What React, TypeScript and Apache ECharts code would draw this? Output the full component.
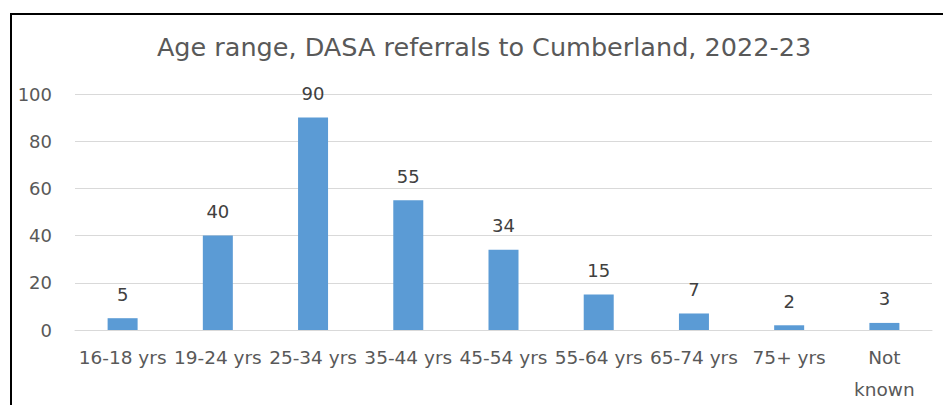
import React, { useEffect, useRef } from "react";
import * as echarts from "echarts";

const TITLE = "Age range, DASA referrals to Cumberland, 2022-23";
const categories = ["16-18 yrs", "19-24 yrs", "25-34 yrs", "35-44 yrs", "45-54 yrs", "55-64 yrs", "65-74 yrs", "75+ yrs", "Not\nknown"];
const referrals = [5, 40, 90, 55, 34, 15, 7, 2, 3];
const yTicks = { min: 0, max: 100, interval: 20 };

const FONT = "DejaVu Sans";

export default function App() {
  const ref = useRef<HTMLDivElement>(null);
  useEffect(() => {
    if (!ref.current) return;
    const chart = echarts.init(ref.current, undefined, { renderer: "svg" });
    chart.setOption({
      animation: false,
      backgroundColor: "#ffffff",
      title: {
        text: TITLE,
        left: 479,
        top: 29,
        textAlign: "center",
        textStyle: { fontFamily: FONT, fontSize: 25.5, fontWeight: "normal", color: "#595959" },
      },
      graphic: [
        { type: "line", shape: { x1: 11, y1: 13, x2: 11, y2: 405 }, style: { stroke: "#000", lineWidth: 2 } },
        { type: "line", shape: { x1: 10, y1: 14, x2: 943, y2: 14 }, style: { stroke: "#000", lineWidth: 2 } },
      ],
      grid: { left: 75, right: 11, top: 94, bottom: 75 },
      xAxis: {
        type: "category",
        data: categories,
        axisLine: { lineStyle: { color: "#d9d9d9", width: 1 } },
        axisTick: { show: false },
        axisLabel: {
          fontFamily: FONT,
          fontSize: 18.5,
          color: "#595959",
          margin: 11,
          lineHeight: 32,
          interval: 0,
        },
      },
      yAxis: {
        type: "value",
        min: yTicks.min,
        max: yTicks.max,
        interval: yTicks.interval,
        axisLine: { show: false },
        axisTick: { show: false },
        splitLine: { lineStyle: { color: "#d9d9d9", width: 1 } },
        axisLabel: { fontFamily: FONT, fontSize: 18, color: "#595959", margin: 23 },
      },
      series: [
        {
          type: "bar",
          data: referrals,
          barWidth: 30,
          itemStyle: { color: "#5B9BD5" },
          label: {
            show: true,
            position: "top",
            distance: 15,
            fontFamily: FONT,
            fontSize: 18,
            color: "#404040",
          },
        },
      ],
    });
    return () => chart.dispose();
  }, []);
  return (
    <div
      ref={ref}
      style={{ position: "fixed", left: 0, top: 0, width: 943, height: 405, background: "#fff" }}
    />
  );
}
